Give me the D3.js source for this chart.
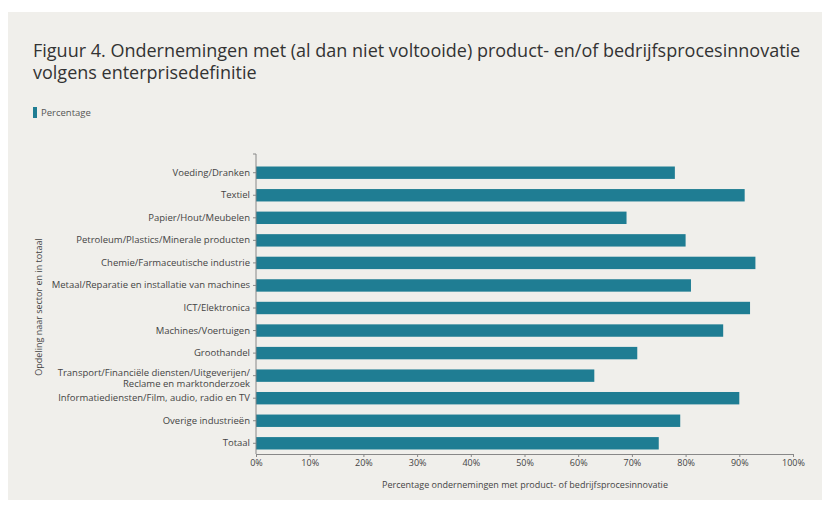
<!DOCTYPE html>
<html>
<head>
<meta charset="utf-8">
<script src="https://cdn.jsdelivr.net/npm/d3@7"></script>
<style>
  body { margin: 0; background: #fff; }
  text { font-family: "Open Sans", sans-serif; }
</style>
</head>
<body>
<div class="canvas"></div>
<script>
// Data
const categories = [
  'Voeding/Dranken',
  'Textiel',
  'Papier/Hout/Meubelen',
  'Petroleum/Plastics/Minerale producten',
  'Chemie/Farmaceutische industrie',
  'Metaal/Reparatie en installatie van machines',
  'ICT/Elektronica',
  'Machines/Voertuigen',
  'Groothandel',
  'Transport/Financiële diensten/Uitgeverijen/\nReclame en marktonderzoek',
  'Informatiediensten/Film, audio, radio en TV',
  'Overige industrieën',
  'Totaal'
]
const values = [78, 91, 69, 80, 93, 81, 92, 87, 71, 63, 90, 79, 75]
const xTicks = [0, 10, 20, 30, 40, 50, 60, 70, 80, 90, 100]

const W = 822, H = 513
const svg = d3.select('.canvas')
  .append('svg')
  .attr('width', W)
  .attr('height', H)

// grey panel
svg.append('rect')
  .attr('x', 8).attr('y', 12)
  .attr('width', W - 8).attr('height', 488)
  .attr('fill', '#f0efeb')

// title, two lines
svg.append('text')
  .attr('x', 33).attr('y', 57)
  .attr('fill', '#333')
  .style('font-size', '18px')
  .text('Figuur 4. Ondernemingen met (al dan niet voltooide) product- en/of bedrijfsprocesinnovatie')
svg.append('text')
  .attr('x', 33).attr('y', 79)
  .attr('fill', '#333')
  .style('font-size', '18px')
  .text('volgens enterprisedefinitie')

// legend
svg.append('rect')
  .attr('x', 33).attr('y', 107)
  .attr('width', 4).attr('height', 11)
  .attr('fill', '#1f7d93')
svg.append('text')
  .attr('x', 41).attr('y', 116)
  .attr('fill', '#555')
  .style('font-size', '9.5px')
  .text('Percentage')

const x = d3.scaleLinear().domain([0, 100]).range([256, 793])
const y = d3.scaleBand().domain(categories).range([162, 454]).paddingInner(0.45).paddingOuter(0.2)

const graph = svg.append('g')

graph.selectAll('rect.bar')
  .data(values)
  .enter()
  .append('rect')
  .attr('class', 'bar')
  .attr('x', x(0))
  .attr('y', (d, i) => y(categories[i]))
  .attr('width', d => x(d) - x(0))
  .attr('height', y.bandwidth())
  .attr('fill', '#1f7d93')

// x axis
const xAxis = graph.append('g')
  .attr('transform', 'translate(0, 454)')
  .call(d3.axisBottom(x).tickValues(xTicks).tickFormat(d => d + '%').tickSize(3).tickSizeOuter(3))
xAxis.selectAll('text').style('font-size', '9px').attr('fill', '#444')
xAxis.selectAll('line, path').attr('stroke', '#888')

// y axis
const yAxis = graph.append('g')
  .attr('transform', `translate(${x(0)}, 0)`)
  .call(d3.axisLeft(y).tickSize(3).tickSizeOuter(3))
yAxis.select('.domain').attr('d', 'M-3,154H0V454')
yAxis.selectAll('line, path').attr('stroke', '#888')
yAxis.selectAll('.tick').each(function (d) {
  const lines = d.split('\n')
  const tick = d3.select(this)
  tick.select('text').style('font-size', '9.5px').attr('fill', '#444')
    .attr('dy', lines.length > 1 ? '0em' : '0.32em')
    .text(lines[0])
  // second line as its own text
  if (lines.length > 1) {
    tick.append('text')
      .attr('x', -6).attr('dy', '1.2em')
      .attr('text-anchor', 'end')
      .attr('fill', '#444')
      .style('font-size', '9.5px')
      .text(lines[1])
  }
})

// axis titles
svg.append('text')
  .attr('x', 525).attr('y', 488)
  .attr('text-anchor', 'middle')
  .attr('fill', '#444')
  .style('font-size', '9px')
  .text('Percentage ondernemingen met product- of bedrijfsprocesinnovatie')

svg.append('text')
  .attr('transform', 'translate(42, 307) rotate(-90)')
  .attr('text-anchor', 'middle')
  .attr('fill', '#444')
  .style('font-size', '9px')
  .text('Opdeling naar sector en in totaal')
</script>
</body>
</html>
